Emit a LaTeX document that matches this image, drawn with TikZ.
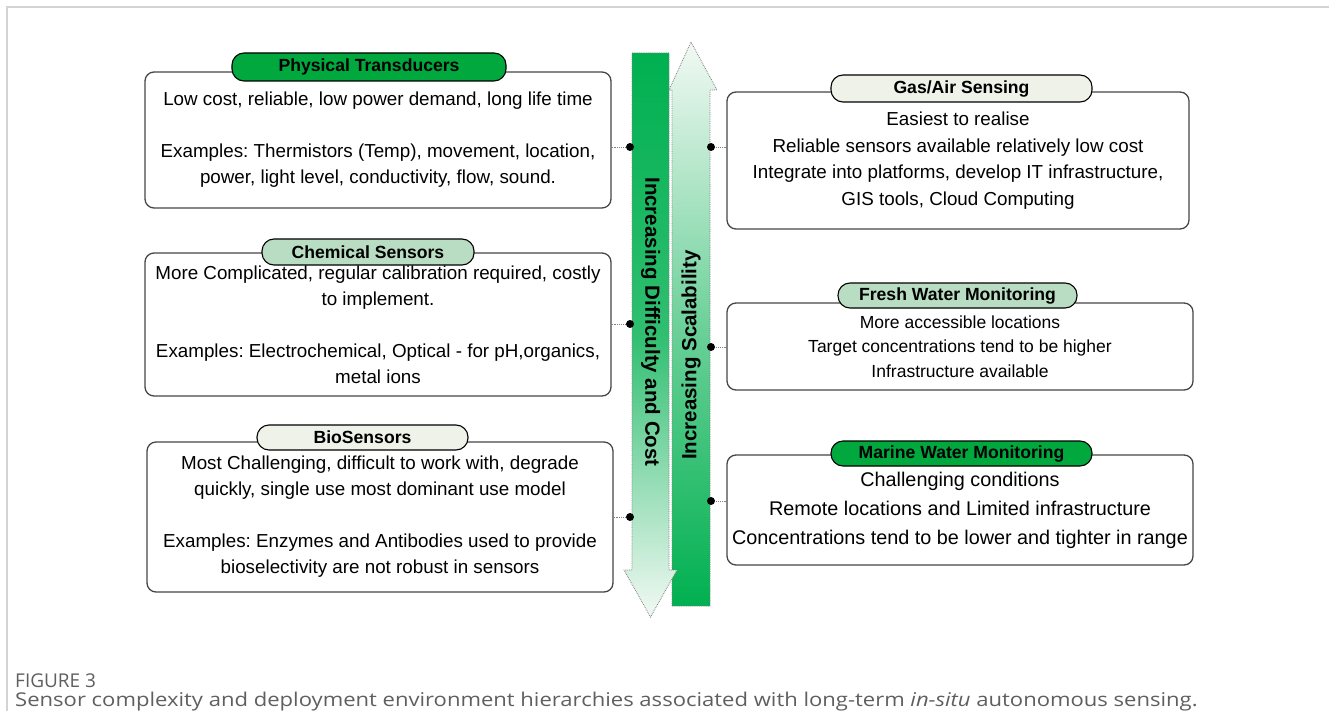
\documentclass[tikz,border=0pt]{standalone}
\usepackage{fontspec}
\setmainfont{Liberation Sans}
\newfontfamily\capfont{Open Sans}
\usetikzlibrary{positioning}
\frenchspacing

\definecolor{pillgreen}{RGB}{0,168,62}
\definecolor{pillmint}{RGB}{184,221,194}
\definecolor{pillpale}{RGB}{239,242,233}
\definecolor{bargreen}{RGB}{0,176,80}
\definecolor{barpale}{RGB}{242,249,244}
\definecolor{boxline}{RGB}{70,70,70}
\definecolor{frameline}{RGB}{212,212,212}
\definecolor{captext}{RGB}{95,95,95}

\tikzset{
  infobox/.style={draw=boxline, line width=1.3pt, rounded corners=9pt, fill=white,
    align=center, inner sep=0pt},
  pill/.style={draw=black, line width=1.1pt, rounded corners=12pt, fill=#1,
    inner sep=0pt, font=\fontsize{17.6}{20}\selectfont\bfseries},
  link/.style={densely dotted, gray, line width=0.9pt},
  hub/.style={circle, fill=black, inner sep=0pt, minimum size=8pt},
  bar/.style={draw=gray, densely dotted, line width=0.8pt},
  vlabel/.style={font=\fontsize{20.5}{24}\selectfont\bfseries, inner sep=0pt},
}

\begin{document}
\begin{tikzpicture}[x=1pt, y=-1pt]
\useasboundingbox (0,0) rectangle (1329,711);

% page frame
\draw[frameline, line width=2pt] (7,711) -- (7,7) -- (1329,7);

% the two hierarchy arrows
\draw[bar, top color=barpale, bottom color=bargreen, middle color=bargreen!55!barpale]
  (672,606) -- (710,606) -- (710,90) -- (717,90) -- (691,42) -- (669,90) -- (672,90) -- cycle;
\draw[bar, top color=bargreen, bottom color=barpale, middle color=bargreen!80!barpale]
  (632,53) -- (669,53) -- (669,570) -- (677,570) -- (650.5,617) -- (624,570) -- (632,570) -- cycle;
\node[vlabel, rotate=-90] (difText) at (650.5,322) {Increasing Difficulty and Cost};
\node[vlabel, rotate=90] (scalText) at (691,355) {Increasing Scalability};

% sensor types
\node[infobox, minimum width=466pt, minimum height=136pt, font=\fontsize{18.8}{26}\selectfont]
  (phys) at (378,140) {Low cost, reliable, low power demand, long life time\\[26pt]
  Examples: Thermistors (Temp), movement, location,\\ power, light level, conductivity, flow, sound.};
\node[infobox, minimum width=466pt, minimum height=143pt, font=\fontsize{18.8}{26}\selectfont]
  (chem) at (378,324.5) {More Complicated, regular calibration required, costly\\ to implement.\\[26pt]
  Examples: Electrochemical, Optical - for pH,organics,\\ metal ions};
\node[infobox, minimum width=466pt, minimum height=150pt, font=\fontsize{18.8}{26}\selectfont]
  (bio) at (380,517) {Most Challenging, difficult to work with, degrade\\ quickly, single use most dominant use model\\[26pt]
  Examples: Enzymes and Antibodies used to provide\\ bioselectivity are not robust in sensors};

\node[pill=pillgreen, minimum width=274pt, minimum height=28pt] (physT) at (369,67) {Physical Transducers};
\node[pill=pillmint, minimum width=212pt, minimum height=26pt] (chemT) at (368,252) {Chemical Sensors};
\node[pill=pillpale, minimum width=211pt, minimum height=25pt] (bioT) at (362.5,437.5) {BioSensors};

% deployment environments
\node[infobox, minimum width=462pt, minimum height=137pt, font=\fontsize{18.8}{26.7}\selectfont]
  (gas) at (958,160.5) {Easiest to realise\\ Reliable sensors available relatively low cost\\
  Integrate into platforms, develop IT infrastructure,\\ GIS tools, Cloud Computing};
\node[infobox, minimum width=466pt, minimum height=87pt, font=\fontsize{17.5}{24.5}\selectfont]
  (fresh) at (960,346.5) {More accessible locations\\ Target concentrations tend to be higher\\ Infrastructure available};
\node[infobox, minimum width=466pt, minimum height=110pt, font=\fontsize{19.8}{29}\selectfont]
  (marine) at (960,510) {Challenging conditions\\ Remote locations and Limited infrastructure\\
  Concentrations tend to be lower and tighter in range};

\node[pill=pillpale, minimum width=261pt, minimum height=27pt] (gasT) at (961.5,88.5) {Gas/Air Sensing};
\node[pill=pillmint, minimum width=239pt, minimum height=25pt] (freshT) at (957.5,295.5) {Fresh Water Monitoring};
\node[pill=pillgreen, minimum width=261pt, minimum height=25pt] (marineT) at (961.5,453.5) {Marine Water Monitoring};

% connectors to the arrows
\node[hub] (d1) at (630,147) {};
\node[hub] (d2) at (630,324) {};
\node[hub] (d3) at (630,517) {};
\node[hub] (s1) at (711,147) {};
\node[hub] (s2) at (711,347) {};
\node[hub] (s3) at (711,501) {};
\draw[link] (d1 -| phys.east) -- (d1);
\draw[link] (d2 -| chem.east) -- (d2);
\draw[link] (d3 -| bio.east) -- (d3);
\draw[link] (s1 -| gas.west) -- (s1);
\draw[link] (s2 -| fresh.west) -- (s2);
\draw[link] (s3 -| marine.west) -- (s3);

% caption
\node[anchor=base west, inner sep=0pt, text=captext, font=\capfont\fontsize{19}{22}\selectfont]
  (figNum) at (15,687) {FIGURE 3};
\node[anchor=base west, inner sep=0pt, text=captext, font=\capfont\fontsize{19}{22}\selectfont]
  (figCap) at (15,706) {\scalebox{1.16}[1]{Sensor complexity and deployment environment hierarchies associated with long-term \textit{in-situ} autonomous sensing.}};

\end{tikzpicture}
\end{document}
